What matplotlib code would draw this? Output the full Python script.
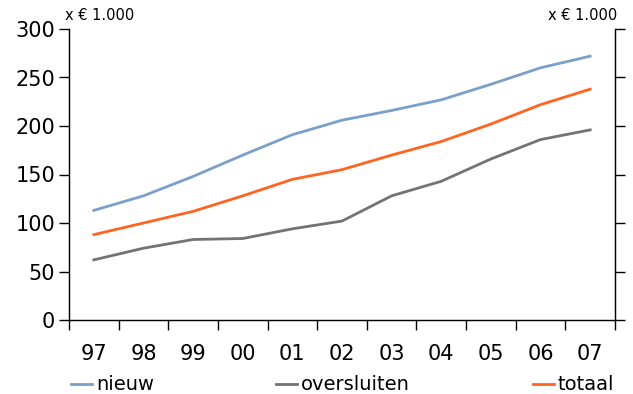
import matplotlib
matplotlib.use("Agg")
import matplotlib.pyplot as plt
from matplotlib.lines import Line2D

years = ["97", "98", "99", "00", "01", "02", "03", "04", "05", "06", "07"]
nieuw = [113, 128, 148, 170, 191, 206, 216, 227, 243, 260, 272]
oversluiten = [62, 74, 83, 84, 94, 102, 128, 143, 166, 186, 196]
totaal = [88, 100, 112, 128, 145, 155, 170, 184, 202, 222, 238]
yticks = [0, 50, 100, 150, 200, 250, 300]

c_nieuw = "#7a9fc9"
c_over = "#737373"
c_tot = "#ff6420"

fig = plt.figure(figsize=(6.33, 3.94), dpi=100)
ax = fig.add_axes([69/633, 1-320/394, (615-69)/633, (320-29)/394])

x = range(len(years))
ax.plot(x, nieuw, color=c_nieuw, lw=2.0)
ax.plot(x, oversluiten, color=c_over, lw=2.0)
ax.plot(x, totaal, color=c_tot, lw=2.0)

ax.set_xlim(-0.5, len(years)-0.5)
ax.set_ylim(0, 300)
ax.set_yticks(yticks)
ax.set_yticklabels([str(v) for v in yticks], fontsize=15)
ax.set_xticks([i - 0.5 for i in range(len(years)+1)])
ax.set_xticklabels([])
ax.set_xticks(list(x), minor=True)
ax.set_xticklabels(years, minor=True, fontsize=15)
ax.tick_params(axis="x", which="minor", length=0, pad=17)
ax.tick_params(axis="x", which="major", length=7, direction="out", width=1)
ax.tick_params(axis="y", length=7, direction="out", width=1, pad=3)
ax.spines["top"].set_visible(False)
ax.spines["right"].set_visible(True)
for s in ["left", "right", "bottom"]:
    ax.spines[s].set_linewidth(1)
    ax.spines[s].set_color("#222222")

ax2 = ax.twinx()
ax2.set_ylim(0, 300)
ax2.set_yticks(yticks)
ax2.set_yticklabels([])
ax2.tick_params(axis="y", length=7, direction="out", width=1)
ax2.spines["top"].set_visible(False)

fig.text(65/633, 1-16/394, "x € 1.000", fontsize=10.5, va="center", ha="left")
fig.text(617/633, 1-16/394, "x € 1.000", fontsize=10.5, va="center", ha="right")

def leg(xpos, color, label):
    y = 1-384/394
    fig.add_artist(Line2D([xpos/633, (xpos+21)/633], [y, y], color=color, lw=2.0,
                          transform=fig.transFigure))
    fig.text((xpos+25)/633, y, label, fontsize=14, va="center", ha="left")

leg(71, c_nieuw, "nieuw")
leg(276, c_over, "oversluiten")
leg(533, c_tot, "totaal")

fig.savefig("out.png", dpi=100)
